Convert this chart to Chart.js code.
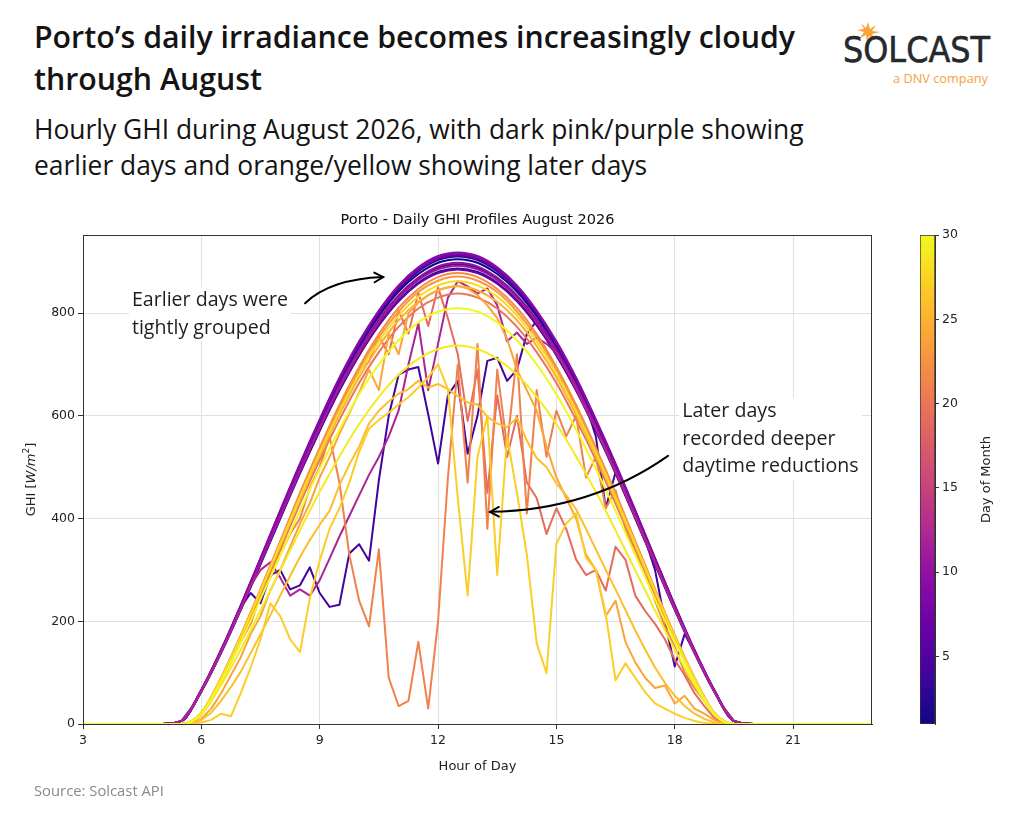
<!DOCTYPE html>
<html>
<head>
<meta charset="utf-8">
<script src="https://cdn.jsdelivr.net/npm/chart.js@4.4.1/dist/chart.umd.min.js"></script>
<style>
html,body{margin:0;padding:0;background:#fff;}
body{width:1024px;height:825px;position:relative;overflow:hidden;font-family:'Open Sans','Lato',sans-serif;color:#151515;}
#title{position:absolute;left:34px;top:16px;font-size:30.3px;font-weight:600;line-height:42px;color:#141414;white-space:nowrap;}
#subtitle{position:absolute;left:34px;top:111px;font-size:26.4px;font-weight:400;line-height:36px;color:#141414;white-space:nowrap;}
#source{position:absolute;left:34px;top:780px;font-size:14.8px;color:#8a8a8a;}
#logo{position:absolute;left:836px;top:20px;}
#main{position:absolute;left:0;top:195px;width:900px;height:615px;}
#cbar{position:absolute;left:900px;top:195px;width:124px;height:615px;}
</style>
</head>
<body>
<div id="title">Porto’s daily irradiance becomes increasingly cloudy<br>through August</div>
<div id="subtitle">Hourly GHI during August 2026, with dark pink/purple showing<br>earlier days and orange/yellow showing later days</div>
<svg id="logo" width="170" height="72" viewBox="836 20 170 72">
  <g fill="#f5a53a">
    <polygon points="868,22 870,29 876,25 872,31 880,32 872,34 875,40 869,36 867,42 866,35 860,38 864,32 857,30 864,29 861,23 866,28"/>
  </g>
  <text x="843" y="62" font-family="'DejaVu Sans'" font-weight="normal" font-size="36" textLength="147" lengthAdjust="spacingAndGlyphs" fill="#26282c" stroke="#26282c" stroke-width="0.6">SOLCAST</text>
  <text x="893" y="83" font-family="'Open Sans','Lato',sans-serif" font-size="13.5" textLength="95" lengthAdjust="spacingAndGlyphs" fill="#f5a33e">a DNV company</text>
</svg>
<div id="main"><canvas id="chart"></canvas></div>
<div id="cbar"><canvas id="cbchart"></canvas></div>
<div id="source">Source: Solcast API</div>

<script>
// ---------------- DATA ----------------
const X_TICKS = [3, 6, 9, 12, 15, 18, 21];
const Y_TICKS = [0, 200, 400, 600, 800];
const COLORBAR_TICKS = [5, 10, 15, 20, 25, 30];
const X_RANGE = [3, 23];
const Y_RANGE = [0, 952];
const DAY_RANGE = [1, 30];

// hour grids (hour of day)
const HALF_HOURS = [3,5,5.5,6,6.5,7,7.5,8,8.5,9,9.5,10,10.5,11,11.5,12,12.5,13,13.5,14,14.5,15,15.5,16,16.5,17,17.5,18,18.5,19,19.5,20,23];
const QUARTER_HOURS = [3,5,5.25,5.5,5.75,6,6.25,6.5,6.75,7,7.25,7.5,7.75,8,8.25,8.5,8.75,9,9.25,9.5,9.75,10,10.25,10.5,10.75,11,11.25,11.5,11.75,12,12.25,12.5,12.75,13,13.25,13.5,13.75,14,14.25,14.5,14.75,15,15.25,15.5,15.75,16,16.25,16.5,16.75,17,17.25,17.5,17.75,18,18.25,18.5,18.75,19,19.25,19.5,19.75,20,23];

// clear-sky-like days, GHI W/m2 on HALF_HOURS
const DAY01 = [0,0,6,65,142,228,319,410,500,585,664,734,794,842,876,898,905,898,876,842,794,734,664,585,500,410,319,228,142,65,6,0,0];
const DAY02 = [0,0,6,63,138,222,311,400,488,571,649,718,777,825,859,880,887,880,859,825,777,718,649,571,488,400,311,222,138,63,6,0,0];
const DAY03 = [0,0,6,66,143,229,320,412,502,588,668,738,798,846,881,903,910,903,881,846,798,738,668,588,502,412,320,229,143,66,6,0,0];
const DAY05 = [0,0,6,64,141,226,315,405,494,578,657,726,785,832,866,888,895,888,866,832,785,726,657,578,494,405,315,226,141,64,6,0,0];
const DAY06 = [0,0,6,66,143,230,321,413,503,589,669,740,800,848,883,905,912,905,883,848,800,740,669,589,503,413,321,230,143,66,6,0,0];
const DAY07 = [0,0,6,64,139,223,312,401,489,572,650,718,776,823,857,878,885,878,857,823,776,718,650,572,489,401,312,223,139,64,6,0,0];
const DAY08 = [0,0,6,66,144,231,322,415,505,591,672,742,803,851,886,908,915,908,886,851,803,742,672,591,505,415,322,231,144,66,6,0,0];
const DAY09 = [0,0,6,66,144,231,323,416,507,593,674,745,805,854,889,911,918,911,889,854,805,745,674,593,507,416,323,231,144,66,6,0,0];
const DAY10 = [0,0,6,65,141,226,316,407,496,580,659,728,788,835,869,891,898,891,869,835,788,728,659,580,496,407,316,226,141,65,6,0,0];
const DAY11 = [0,0,6,64,140,225,314,404,492,576,655,723,782,830,864,885,892,885,864,830,782,723,655,576,492,404,314,225,140,64,6,0,0];
const DAY20 = [0,0,0,21,86,165,251,340,429,514,592,664,724,773,809,830,838,830,809,773,724,664,592,514,429,340,251,165,86,21,0,0,0];
const DAY22 = [0,0,0,22,90,173,263,356,450,538,621,695,759,810,847,870,878,870,847,810,759,695,621,538,450,356,263,173,90,22,0,0,0];
const DAY23 = [0,0,0,22,90,172,261,354,446,534,616,690,753,803,841,863,871,863,841,803,753,690,616,534,446,354,261,172,90,22,0,0,0];
const DAY25 = [0,0,0,21,88,168,256,346,436,522,602,675,736,786,822,844,852,844,822,786,736,675,602,522,436,346,256,168,88,21,0,0,0];
const DAY28 = [0,0,0,22,89,170,259,350,441,528,609,683,745,795,832,854,862,854,832,795,745,683,609,528,441,350,259,170,89,22,0,0,0];
const DAY29 = [0,0,0,18,76,145,221,299,377,452,521,584,637,680,711,730,737,730,711,680,637,584,521,452,377,299,221,145,76,18,0,0,0];
const DAY30 = [0,0,0,20,83,160,243,329,415,497,573,642,700,747,782,803,810,803,782,747,700,642,573,497,415,329,243,160,83,20,0,0,0];

// cloudy days, GHI W/m2 on QUARTER_HOURS
const DAY04 = [0, 0,0,6,32, 65,103,141,184, 227,255,235,290, 300,262,270,305, 255,228,232,332, 350,318,475,600, 680,690,695,603, 507,640,668,526, 600,707,713,668, 690,759,785,760, 728,700,660,620, 560,420,490,450, 405,360,300,200, 112,175,140,102, 64,31,6,0, 0, 0];
const DAY12 = [0, 0,0,6,31, 64,101,140,182, 224,269,300,315, 285,250,262,250, 280,322,365,405, 445,485,520,560, 610,700,780,650, 740,830,862,852, 838,848,815,745, 762,740,752,740, 722,690,653,612, 575,532,491,448, 403,358,313,269, 224,182,140,101, 64,31,6,0, 0, 0];
const DAY19 = [0, 0,0,0,0, 20,50,86,124, 165,205,250,300, 335,395,440,485, 525,570,610,650, 690,705,755,720, 805,760,840,775, 850,790,720,590, 690,450,640,520, 600,470,440,370, 420,380,320,290, 300,260,345,320, 250,220,195,165, 125,95,60,35, 12,0,0,0, 0, 0];
const DAY21 = [0, 0,0,0,0, 18,45,80,120, 160,195,250,285, 330,370,400,460, 500,560,470,330, 240,190,340,90, 35,45,160,30, 200,480,700,470, 740,380,690,540, 720,410,650,520, 610,560,600,480, 520,420,455,380, 330,300,240,190, 150,100,70,45, 18,0,0,0, 0, 0];
const DAY24 = [0, 0,0,0,0, 10,30,60,95, 130,175,210,260, 300,345,390,430, 480,520,565,605, 645,690,650,760, 720,800,820,835, 845,850,853,848, 835,815,790,750, 690,650,610,540, 480,440,400,330, 300,210,240,160, 120,90,70,75, 40,55,30,20, 8,0,0,0, 0, 0];
const DAY26 = [0, 0,0,0,0, 8,22,45,72, 102,138,175,212, 250,288,325,358, 388,415,465,505, 540,585,610,628, 643,652,668,655, 662,652,638,626, 622,598,585,578, 596,552,518,500, 468,445,418,380, 340,300,262,222, 182,145,110,80, 55,35,20,10, 3,0,0,0, 0, 0];
const DAY27 = [0, 0,0,0,0, 3,8,20,15, 60,110,165,235, 210,165,140,245, 318,380,420,470, 530,575,592,606, 622,636,655,675, 700,652,440,250, 520,600,290,560, 450,330,157,99, 351,390,410,324, 300,215,85,118, 90,62,40,30, 20,12,6,2, 0,0,0,0, 0, 0];

const CLEAR_SERIES = [[1,DAY01],[2,DAY02],[3,DAY03],[5,DAY05],[6,DAY06],[7,DAY07],[8,DAY08],[9,DAY09],[10,DAY10],[11,DAY11],[20,DAY20],[22,DAY22],[23,DAY23],[25,DAY25],[28,DAY28],[29,DAY29],[30,DAY30]];
const CLOUDY_SERIES = [[4,DAY04],[12,DAY12],[19,DAY19],[21,DAY21],[24,DAY24],[26,DAY26],[27,DAY27]];

// ---------------- STYLE ----------------
const PLASMA = ['#0d0887','#41049d','#6a00a8','#8f0da4','#b12a90','#cc4778','#e16462','#f2844b','#fca636','#fcce25','#f0f921'];
function hexRgb(h){return [parseInt(h.slice(1,3),16),parseInt(h.slice(3,5),16),parseInt(h.slice(5,7),16)];}
function plasma(t){
  t=Math.max(0,Math.min(1,t));
  const p=t*(PLASMA.length-1), i=Math.min(PLASMA.length-2,Math.floor(p)), f=p-i;
  const a=hexRgb(PLASMA[i]), b=hexRgb(PLASMA[i+1]);
  return 'rgb('+a.map((v,k)=>Math.round(v+(b[k]-v)*f)).join(',')+')';
}
const dayColor = d => plasma((d-DAY_RANGE[0])/(DAY_RANGE[1]-DAY_RANGE[0]));

const TICK_FONT = {family:"'DejaVu Sans'", size:12.5};
const TEXT_COLOR = '#222';
const ANNOT_FONT = "19.6px 'Open Sans','Lato',sans-serif";

const ANNOTATIONS = [
  {lines:['Earlier days were','tightly grouped'], x:4.24, y:[825,771],
   arrow:{from:[8.63,819],ctrl:[9.26,866],to:[10.61,870]}},
  {lines:['Later days','recorded deeper','daytime reductions'], x:18.19, y:[609,555,501],
   arrow:{from:[17.83,522],ctrl:[15.86,416],to:[13.32,413]}}
];

// ---------------- BUILD ----------------
const datasets = [];
function addSeries(list, hours, smooth){
  list.forEach(([day, vals])=>{
    datasets.push({
      label:'Day '+day,
      data: hours.map((h,i)=>({x:h,y:vals[i]})),
      borderColor: dayColor(day),
      borderWidth: 2,
      pointRadius: 0,
      fill: false,
      tension: 0,
      cubicInterpolationMode: smooth ? 'monotone' : 'default',
      borderJoinStyle: 'round',
      order: 100 - day
    });
  });
}
addSeries(CLEAR_SERIES, HALF_HOURS, true);
addSeries(CLOUDY_SERIES, QUARTER_HOURS, false);

const decor = {
  id:'decor',
  afterDatasetsDraw(chart){
    const {ctx, chartArea:a, scales:{x,y}} = chart;
    ctx.save();
    ANNOTATIONS.forEach(an=>{
      ctx.font = ANNOT_FONT;
      ctx.textBaseline = 'middle';
      ctx.textAlign = 'left';
      const px = x.getPixelForValue(an.x);
      const ys = an.y.map(v=>y.getPixelForValue(v));
      const w = Math.max(...an.lines.map(l=>ctx.measureText(l).width));
      ctx.fillStyle = '#fff';
      ctx.fillRect(px-3, ys[0]-13, w+6, ys[ys.length-1]-ys[0]+26);
      ctx.fillStyle = '#1e1e1e';
      an.lines.forEach((l,i)=>ctx.fillText(l, px, ys[i]));
      const f=[x.getPixelForValue(an.arrow.from[0]), y.getPixelForValue(an.arrow.from[1])];
      const c=[x.getPixelForValue(an.arrow.ctrl[0]), y.getPixelForValue(an.arrow.ctrl[1])];
      const t=[x.getPixelForValue(an.arrow.to[0]), y.getPixelForValue(an.arrow.to[1])];
      ctx.strokeStyle = '#000';
      ctx.lineWidth = 2;
      ctx.lineCap = 'round';
      ctx.beginPath();
      ctx.moveTo(f[0],f[1]);
      ctx.quadraticCurveTo(c[0],c[1],t[0],t[1]);
      ctx.stroke();
      const ang = Math.atan2(t[1]-c[1], t[0]-c[0]);
      const L = 10, s = 0.5;
      ctx.beginPath();
      ctx.moveTo(t[0]-L*Math.cos(ang-s), t[1]-L*Math.sin(ang-s));
      ctx.lineTo(t[0], t[1]);
      ctx.lineTo(t[0]-L*Math.cos(ang+s), t[1]-L*Math.sin(ang+s));
      ctx.stroke();
    });
    ctx.restore();
  },
  afterDraw(chart){
    const {ctx, chartArea:a} = chart;
    ctx.save();
    ctx.strokeStyle = '#333';
    ctx.lineWidth = 1;
    ctx.strokeRect(a.left+0.5, a.top+0.5, a.right-a.left-1, a.bottom-a.top);
    ctx.fillStyle = '#111';
    ctx.font = "14.5px 'DejaVu Sans'";
    ctx.textAlign = 'center';
    ctx.textBaseline = 'middle';
    ctx.fillText('Porto - Daily GHI Profiles August 2026', (a.left+a.right)/2, a.top-15);
    ctx.font = "13px 'DejaVu Sans'";
    ctx.fillStyle = TEXT_COLOR;
    ctx.fillText('Hour of Day', (a.left+a.right)/2, a.bottom+43);
    ctx.translate(32, (a.top+a.bottom)/2);
    ctx.rotate(-Math.PI/2);
    const parts = [
      {t:'GHI [', f:"13px 'DejaVu Sans'", dy:0},
      {t:'W/m', f:"italic 13px 'DejaVu Sans'", dy:0},
      {t:'2', f:"9px 'DejaVu Sans'", dy:-5},
      {t:']', f:"13px 'DejaVu Sans'", dy:0}
    ];
    let total=0;
    parts.forEach(p=>{ctx.font=p.f; p.w=ctx.measureText(p.t).width; total+=p.w;});
    let cx=-total/2;
    ctx.textAlign='left';
    parts.forEach(p=>{ctx.font=p.f; ctx.fillText(p.t, cx, p.dy); cx+=p.w;});
    ctx.restore();
  }
};

Chart.defaults.font.family = "'DejaVu Sans'";
Chart.defaults.color = TEXT_COLOR;

new Chart(document.getElementById('chart'), {
  type:'line',
  data:{datasets},
  options:{
    responsive:true, maintainAspectRatio:false, animation:false,
    layout:{padding:{left:0,right:28,top:40,bottom:0}},
    plugins:{legend:{display:false}, tooltip:{enabled:false}, title:{display:false}},
    scales:{
      x:{type:'linear', min:X_RANGE[0], max:X_RANGE[1],
         afterBuildTicks:s=>{s.ticks = X_TICKS.map(v=>({value:v}));},
         afterFit:s=>{s.height = 86;},
         grid:{color:'#e0e0e0', lineWidth:1, tickColor:'#333', tickLength:5},
         border:{display:true, color:'#333'},
         ticks:{font:TICK_FONT, color:TEXT_COLOR, padding:4, maxRotation:0}},
      y:{type:'linear', min:Y_RANGE[0], max:Y_RANGE[1],
         afterBuildTicks:s=>{s.ticks = Y_TICKS.map(v=>({value:v}));},
         afterFit:s=>{s.width = 83;},
         grid:{color:'#e0e0e0', lineWidth:1, tickColor:'#333', tickLength:5},
         border:{display:true, color:'#333'},
         ticks:{font:TICK_FONT, color:TEXT_COLOR, padding:3}}
    }
  },
  plugins:[decor]
});

// ---------------- COLORBAR ----------------
const cbLabel = {
  id:'cbLabel',
  afterDraw(chart){
    const {ctx, chartArea:a} = chart;
    ctx.save();
    ctx.translate(a.right+52, (a.top+a.bottom)/2);
    ctx.rotate(-Math.PI/2);
    ctx.font = "13px 'DejaVu Sans'";
    ctx.fillStyle = TEXT_COLOR;
    ctx.textAlign = 'center';
    ctx.textBaseline = 'middle';
    ctx.fillText('Day of Month', 0, 0);
    ctx.restore();
  }
};
new Chart(document.getElementById('cbchart'), {
  type:'bar',
  data:{labels:['day'], datasets:[{
    data:[[DAY_RANGE[0], DAY_RANGE[1]]],
    backgroundColor:(c)=>{
      const area=c.chart.chartArea; if(!area) return '#888';
      const g=c.chart.ctx.createLinearGradient(0,area.bottom,0,area.top);
      PLASMA.forEach((col,i)=>g.addColorStop(i/(PLASMA.length-1), col));
      return g;
    },
    borderColor:'#333', borderWidth:1, borderSkipped:false,
    barPercentage:1, categoryPercentage:1
  }]},
  options:{
    responsive:true, maintainAspectRatio:false, animation:false,
    layout:{padding:{left:20,right:0,top:40,bottom:86}},
    plugins:{legend:{display:false}, tooltip:{enabled:false}},
    scales:{
      x:{display:false},
      y:{position:'right', min:DAY_RANGE[0], max:DAY_RANGE[1],
         afterBuildTicks:s=>{s.ticks = COLORBAR_TICKS.map(v=>({value:v}));},
         afterFit:s=>{s.width = 89;},
         grid:{display:true, drawOnChartArea:false, tickColor:'#333', tickLength:4},
         border:{display:true, color:'#333'},
         ticks:{font:TICK_FONT, color:TEXT_COLOR, padding:3}}
    }
  },
  plugins:[cbLabel]
});
</script>
</body>
</html>
